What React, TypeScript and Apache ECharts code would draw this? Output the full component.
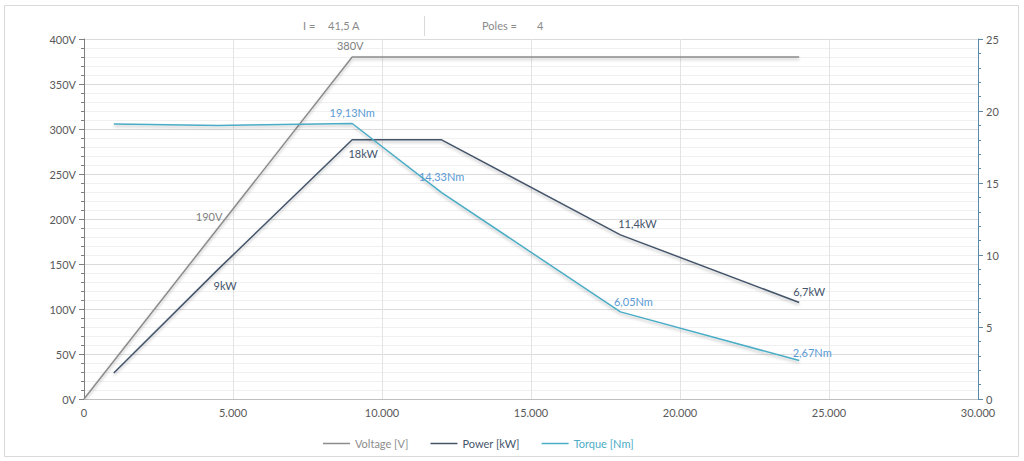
import React, { useEffect, useRef } from "react";
import * as echarts from "echarts";

const voltageRpm = [0, 4500, 9000, 24000];
const voltageValues = [0, 190, 380, 380];
const voltageLabeled = [false, true, true, false];

const powerRpm = [1000, 4500, 9000, 12000, 18000, 24000];
const powerValues = [1.8, 9, 18, 18, 11.4, 6.7];
const powerLabeled = [false, true, true, false, true, true];

const torqueRpm = [1000, 4500, 9000, 12000, 18000, 24000];
const torqueValues = [19.1, 19.0, 19.13, 14.33, 6.05, 2.67];
const torqueLabeled = [false, false, true, true, true, true];

const headerCurrentName = "I =";
const headerCurrentValue = "41,5 A";
const headerPolesName = "Poles =";
const headerPolesValue = "4";

const FONT = "Lato, 'Open Sans', sans-serif";
const C_VOLT = "#8c8c8c";
const C_POW = "#44546a";
const C_TOR = "#4bacc6";

const fmt = (v: number, unit: string) => String(v).replace(".", ",") + unit;

const voltLabelPos: any[] = [null, { position: "top", offset: [-9, 0] }, { position: "top", offset: [-2, 0] }, null];
const powLabelPos: any[] = [null, { position: "bottom", offset: [7, 5] }, { position: "bottom", offset: [11, 2] }, null, { position: "top", offset: [17, 0] }, { position: "top", offset: [10, 0] }];
const torLabelPos: any[] = [null, null, { position: "top", offset: [0, 0] }, { position: "top", offset: [0, -5] }, { position: "top", offset: [13, 1] }, { position: "top", offset: [13, 3] }];

function build(xs: number[], ys: number[], labeled: boolean[], pos: any[], unit: string, color: string) {
  return xs.map((x, i) => ({
    value: [x, ys[i]],
    label: labeled[i]
      ? { show: true, position: pos[i].position, offset: pos[i].offset, formatter: fmt(ys[i], unit), color, fontSize: 11, fontFamily: FONT }
      : { show: false },
  }));
}

export default function App() {
  const ref = useRef<HTMLDivElement>(null);
  useEffect(() => {
    const chart = echarts.init(ref.current!, null, { renderer: "svg" });
    const lineShadow = { shadowBlur: 3, shadowColor: "rgba(0,0,0,0.25)", shadowOffsetY: 2 };
    const hiddenSymbol = {
      symbol: "circle",
      symbolSize: 2,
      showSymbol: true,
      itemStyle: { color: "rgba(0,0,0,0)", borderWidth: 0 },
      emphasis: { disabled: true },
    };
    const headerText = (x: number, text: string) => ({
      type: "text",
      x,
      y: 20,
      style: { text, fill: "#8a8a8a", fontSize: 11, fontFamily: FONT },
    });
    chart.setOption({
      animation: false,
      backgroundColor: "#ffffff",
      textStyle: { fontFamily: FONT },
      grid: { left: 84, right: 46, top: 39, bottom: 62, containLabel: false },
      legend: {
        left: 318,
        top: 433,
        icon: "rect",
        itemWidth: 27,
        itemHeight: 1.5,
        itemGap: 22,
        textStyle: { fontSize: 11, fontFamily: FONT },
        data: [
          { name: "Voltage [V]", itemStyle: { color: C_VOLT }, textStyle: { color: C_VOLT } },
          { name: "Power [kW]", itemStyle: { color: C_POW }, textStyle: { color: C_POW } },
          { name: "Torque [Nm]", itemStyle: { color: C_TOR }, textStyle: { color: C_TOR } },
        ],
      },
      xAxis: {
        type: "value",
        min: 0,
        max: 30000,
        interval: 5000,
        axisLine: { show: true, lineStyle: { color: "#bfbfbf" } },
        axisTick: { show: false },
        axisLabel: {
          color: "#595959",
          fontSize: 11,
          margin: 8,
          formatter: (v: number) => String(v).replace(/\B(?=(\d{3})+(?!\d))/g, "."),
        },
        splitLine: { show: true, lineStyle: { color: "#e3e3e3" } },
      },
      yAxis: [
        {
          type: "value",
          min: 0,
          max: 400,
          interval: 50,
          axisLine: { show: true, lineStyle: { color: "#7f7f7f" } },
          axisTick: { show: true, length: 5, lineStyle: { color: "#7f7f7f" } },
          minorTick: { show: true, splitNumber: 5, length: 3, lineStyle: { color: "#7f7f7f" } },
          axisLabel: { color: "#595959", fontSize: 11, margin: 8, formatter: (v: number) => v + "V" },
          splitLine: { show: true, lineStyle: { color: "#dadada" } },
          minorSplitLine: { show: true, lineStyle: { color: "#f0f0f0" } },
        },
        {
          type: "value",
          min: 0,
          max: 25,
          interval: 5,
          position: "right",
          axisLine: { show: true, lineStyle: { color: "#5b8aa8" } },
          axisTick: { show: true, length: 5, lineStyle: { color: "#5b8aa8" } },
          minorTick: { show: true, splitNumber: 5, length: 3, lineStyle: { color: "#5b8aa8" } },
          axisLabel: { color: "#595959", fontSize: 11, margin: 8 },
          splitLine: { show: false },
        },
      ],
      series: [
        {
          name: "Voltage [V]",
          type: "line",
          yAxisIndex: 0,
          ...hiddenSymbol,
          lineStyle: { color: C_VOLT, width: 1.5, ...lineShadow },
          data: build(voltageRpm, voltageValues, voltageLabeled, voltLabelPos, "V", "#7f7f7f"),
          z: 3,
        },
        {
          name: "Power [kW]",
          type: "line",
          yAxisIndex: 1,
          ...hiddenSymbol,
          lineStyle: { color: C_POW, width: 1.5, ...lineShadow },
          data: build(powerRpm, powerValues, powerLabeled, powLabelPos, "kW", C_POW),
          z: 4,
        },
        {
          name: "Torque [Nm]",
          type: "line",
          yAxisIndex: 1,
          ...hiddenSymbol,
          lineStyle: { color: C_TOR, width: 1.5, ...lineShadow },
          data: build(torqueRpm, torqueValues, torqueLabeled, torLabelPos, "Nm", "#5b9bd5"),
          z: 5,
        },
      ],
      graphic: [
        { type: "rect", shape: { x: 4.5, y: 5.5, width: 1014, height: 451 }, style: { fill: "none", stroke: "#d9d9d9", lineWidth: 1 }, z: -10, silent: true },
        headerText(303, headerCurrentName),
        headerText(328, headerCurrentValue),
        { type: "line", shape: { x1: 424.5, y1: 16, x2: 424.5, y2: 36 }, style: { stroke: "#d9d9d9", lineWidth: 1 } },
        headerText(482, headerPolesName),
        headerText(537, headerPolesValue),
      ],
    });
    return () => chart.dispose();
  }, []);
  return <div ref={ref} style={{ width: 1024, height: 461, position: "absolute", left: 0, top: 0 }} />;
}
